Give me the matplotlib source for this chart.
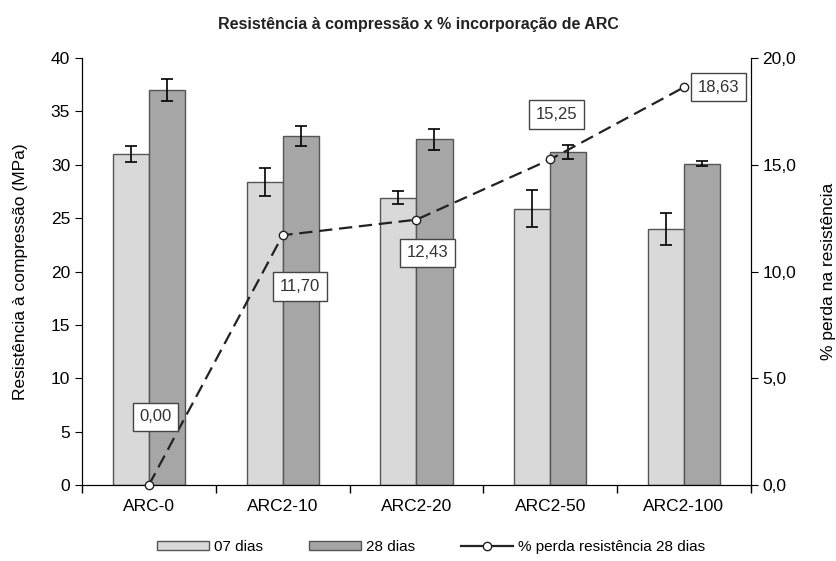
import matplotlib.pyplot as plt
import numpy as np
from matplotlib.lines import Line2D
from matplotlib.ticker import FuncFormatter, FixedLocator

plt.rcParams['font.family'] = ['Liberation Sans', 'DejaVu Sans']

categories = ["ARC-0", "ARC2-10", "ARC2-20", "ARC2-50", "ARC2-100"]
dias07 = [31.0, 28.4, 26.9, 25.9, 24.0]
dias07_err = [0.75, 1.3, 0.6, 1.7, 1.5]
dias28 = [37.0, 32.7, 32.4, 31.2, 30.1]
dias28_err = [1.0, 0.9, 1.0, 0.7, 0.25]
perda = [0.00, 11.70, 12.43, 15.25, 18.63]
perda_labels = ["0,00", "11,70", "12,43", "15,25", "18,63"]

fig = plt.figure(figsize=(8.37, 5.61), dpi=100)
ax = fig.add_axes([0.098, 0.1355, 0.799, 0.761])
x = np.arange(len(categories))
w = 0.27

ax.bar(x - w / 2, dias07, w, color="#d9d9d9", edgecolor="#555555", linewidth=1.0,
       yerr=dias07_err, error_kw=dict(ecolor="black", elinewidth=1.2, capsize=4, capthick=1.2),
       label="07 dias", zorder=2)
ax.bar(x + w / 2, dias28, w, color="#a6a6a6", edgecolor="#555555", linewidth=1.0,
       yerr=dias28_err, error_kw=dict(ecolor="black", elinewidth=1.2, capsize=4, capthick=1.2),
       label="28 dias", zorder=2)

ax.set_xlim(-0.5, len(categories) - 0.5)
ax.set_ylim(0, 40)
ax.set_yticks(range(0, 41, 5))
ax.set_xticks(x)
ax.set_xticklabels(categories, fontsize=12.5)
ax.tick_params(axis="x", length=0, pad=10)
ax.xaxis.set_minor_locator(FixedLocator(np.arange(-0.5, len(categories), 1.0)))
ax.tick_params(axis="x", which="minor", length=6, width=1)
ax.tick_params(axis="y", labelsize=12.5, length=5)
ax.set_ylabel("Resistência à compressão (MPa)", fontsize=12.5, labelpad=16)
ax.spines["top"].set_visible(False)

ax2 = ax.twinx()
ax2.set_ylim(0, 20)
ax2.set_yticks(range(0, 21, 5))
ax2.yaxis.set_major_formatter(FuncFormatter(lambda v, p: f"{v:.1f}".replace(".", ",")))
ax2.tick_params(axis="y", labelsize=12.5, length=5)
ax2.set_ylabel("% perda na resistência", fontsize=12.5, labelpad=18)
ax2.spines["top"].set_visible(False)
ln, = ax2.plot(x, perda, color="#222222", linestyle=(0, (6, 3)), linewidth=1.6,
               marker="o", markersize=6, markerfacecolor="white", markeredgecolor="#222222",
               label="% perda resistência 28 dias", zorder=5, clip_on=False)

offsets = [(0.05, 3.2), (0.13, -2.4), (0.08, -1.55), (0.05, 2.1), (0.26, 0.0)]
for xi, yi, lab, (dx, dy) in zip(x, perda, perda_labels, offsets):
    ax2.text(xi + dx, yi + dy, lab, fontsize=12, ha="center", va="center", color="#333333",
             bbox=dict(boxstyle="square,pad=0.4", facecolor="white", edgecolor="#444444", linewidth=1.0),
             zorder=6)

ax.set_zorder(1)
ax2.set_zorder(2)
ax2.patch.set_visible(False)

fig.suptitle("Resistência à compressão x % incorporação de ARC", y=0.97, fontsize=11.5,
             fontweight="bold", color="#222222")

# legend line drawn short and solid, as in the source figure
ln_handle = Line2D([], [], color="#222222", linewidth=1.6, marker="o", markersize=6,
                   markerfacecolor="white", markeredgecolor="#222222")
h1, l1 = ax.get_legend_handles_labels()
fig.legend(h1 + [ln_handle], l1 + [ln.get_label()], loc="center", bbox_to_anchor=(0.515, 0.025),
           ncol=3, frameon=False, fontsize=11, handlelength=3.4, handleheight=0.6,
           handletextpad=0.35, columnspacing=3.0)

fig.savefig("out.png", dpi=100)
